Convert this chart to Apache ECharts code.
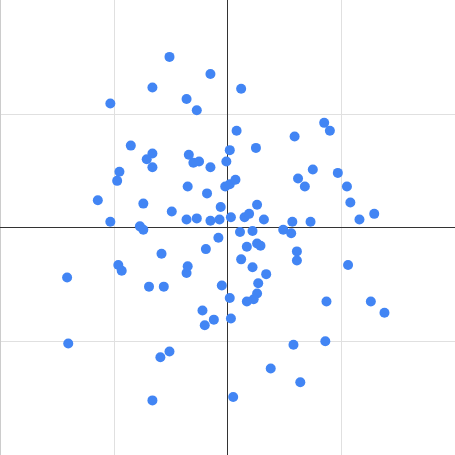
<!DOCTYPE html>
<html>
<head>
<meta charset="utf-8">
<script src="https://cdn.jsdelivr.net/npm/echarts@6/dist/echarts.min.js"></script>
<style>html,body{margin:0;padding:0;background:#fff;}#c{width:455px;height:455px;}</style>
</head>
<body>
<div id="c"></div>
<script>
var xValues = [
  -0.51,-0.15,0.12,-0.66,-1.03,-0.36,-0.27,
  -0.85,-0.66,-0.71,-0.66,-0.95,-0.97,-1.14,-0.74,-1.03,-0.77,-0.74,-0.49,-0.36,-0.27,-0.15,-0.07,-0.06,-0.18,-0.35,-0.02,0.02,0.07,-0.34,-0.30,-0.25,-0.15,-0.01,0.02,
  0.08,0.59,0.85,0.90,0.75,0.62,0.68,0.97,1.05,1.08,1.29,1.16,
  0.25,0.03,0.15,0.19,0.26,0.32,0.57,0.73,0.11,0.22,0.49,0.56,0.26,0.29,0.17,0.61,0.61,0.12,0.22,0.34,0.27,0.26,0.23,0.17,0.02,0.03,
  1.06,0.87,1.26,1.38,0.58,0.86,0.38,0.64,0.05,
  -1.41,-1.40,-0.96,-0.93,-0.58,-0.69,-0.56,-0.51,-0.59,-0.66,-0.22,-0.12,-0.20,-0.36,-0.35,-0.08,-0.19,-0.05
];
var yValues = [
  1.50,1.35,1.22,1.23,1.09,1.13,1.03,
  0.72,0.65,0.60,0.53,0.49,0.41,0.24,0.21,0.05,0.01,-0.02,0.14,0.07,0.08,0.06,0.07,0.18,0.30,0.36,0.36,0.38,0.42,0.64,0.57,0.58,0.53,0.58,0.68,
  0.85,0.80,0.92,0.85,0.51,0.43,0.36,0.48,0.36,0.22,0.12,0.07,
  0.70,0.09,0.09,0.12,0.20,0.07,0.05,0.05,-0.04,-0.03,-0.02,-0.05,-0.14,-0.16,-0.17,-0.21,-0.29,-0.28,-0.35,-0.41,-0.49,-0.58,-0.63,-0.65,-0.62,-0.80,
  -0.33,-0.65,-0.65,-0.75,-1.03,-1.00,-1.24,-1.36,-1.49,
  -0.44,-1.02,-0.33,-0.38,-0.23,-0.52,-0.52,-1.09,-1.14,-1.52,-0.73,-0.81,-0.86,-0.40,-0.34,-0.09,-0.19,-0.51
];
var axisMin = -2, axisMax = 2, axisStep = 1;

var points = xValues.map(function (x, i) { return [x, yValues[i]]; });
var chart = echarts.init(document.getElementById('c'), null, {renderer: 'canvas'});
function makeAxis(showMin, colors) {
  return {
    type: 'value', min: axisMin, max: axisMax, interval: axisStep,
    axisLine: {show: true, onZero: true, lineStyle: {color: '#333', width: 1}},
    axisTick: {show: false},
    axisLabel: {show: false},
    splitLine: {show: true, showMinLine: showMin, showMaxLine: false,
      lineStyle: {color: colors, width: 1}}
  };
}
chart.setOption({
  animation: false,
  grid: {left: 0, right: 0, top: 0, bottom: 0, containLabel: false},
  xAxis: makeAxis(true, ['#cccccc', '#e0e0e0', '#e0e0e0', '#e0e0e0', '#e0e0e0']),
  yAxis: makeAxis(false, '#e0e0e0'),
  series: [{
    type: 'scatter',
    data: points,
    symbolSize: 10,
    itemStyle: {color: '#4285F4', opacity: 1}
  }]
});
</script>
</body>
</html>
